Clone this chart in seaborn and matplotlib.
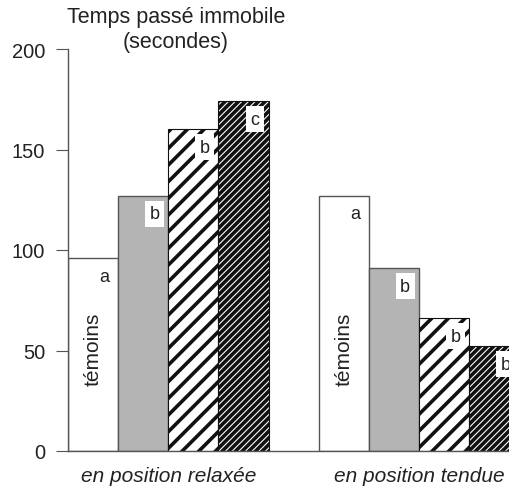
import matplotlib
matplotlib.use("Agg")
import matplotlib.pyplot as plt
import pandas as pd
import seaborn as sns

# values (seconds spent immobile)
positions = ["en position relaxée", "en position tendue"]
treatments = ["témoins", "traitement 1", "traitement 2", "traitement 3"]
relaxed = [96, 127, 160, 174]
tense = [127, 91, 66, 52]
letters_relaxed = ["a", "b", "b", "c"]
letters_tense = ["a", "b", "b", "b"]
y_ticks = [0, 50, 100, 150, 200]

df = pd.DataFrame({
    "position": [positions[0]] * 4 + [positions[1]] * 4,
    "traitement": treatments * 2,
    "temps": relaxed + tense,
})

sns.set_theme(style="white")
plt.rcParams["font.family"] = ["Liberation Sans", "DejaVu Sans"]
plt.rcParams["hatch.linewidth"] = 2.6

fig = plt.figure(figsize=(5.1, 4.89), dpi=100)
ax = fig.add_axes([68 / 510, 37 / 489, 464 / 510, 402 / 489])

palette = {"témoins": "white", "traitement 1": "#b4b4b4",
           "traitement 2": "white", "traitement 3": "white"}
sns.barplot(data=df, x="position", y="temps", hue="traitement", order=positions,
            hue_order=treatments, palette=palette, width=0.8, ax=ax,
            edgecolor="#555555", linewidth=1.0, saturation=1, legend=False)

# hatching: wide black stripes, then dense black stripes leaving thin white lines
for p in ax.containers[2]:
    p.set_hatch("//")
    p.set_edgecolor("#111111")
    p.set_linewidth(0.8)
for p in ax.containers[3]:
    p.set_hatch("/////")
    p.set_edgecolor("#111111")
    p.set_linewidth(0.8)

# significance letters
all_letters = [letters_relaxed, letters_tense]
for h, cont in enumerate(ax.containers):
    for g, p in enumerate(cont):
        ax.annotate(all_letters[g][h], xy=(p.get_x() + p.get_width(), p.get_height()),
                    xytext=(-14, -18), textcoords="offset pixels",
                    ha="center", va="center", fontsize=13, color="#222222",
                    bbox=dict(boxstyle="square,pad=0.25", fc="white", ec="none"))

# "témoins" written inside the control bars
for p in ax.containers[0]:
    ax.text(p.get_x() + p.get_width() / 2, 51, "témoins", rotation=90,
            ha="center", va="center", fontsize=15, color="#222222")

ax.set_xlim(-0.4, 1.45)
ax.set_ylim(0, 200)
ax.set_yticks(y_ticks)
ax.set_xlabel("")
ax.set_ylabel("")
ax.tick_params(axis="y", length=8.5, width=0.8, color="#555555", labelsize=14.5,
               labelcolor="#222222", pad=8, left=True)
ax.tick_params(axis="x", length=0, labelsize=15, labelcolor="#222222", pad=11)
for lab in ax.get_xticklabels():
    lab.set_fontstyle("italic")
sns.despine(ax=ax)
for s in ["left", "bottom"]:
    ax.spines[s].set_color("#555555")
    ax.spines[s].set_linewidth(1.0)

fig.text(176 / 510, 1 - 7 / 489, "Temps passé immobile\n(secondes)", ha="center",
         va="top", fontsize=15.5, color="#222222", linespacing=1.25)

fig.savefig("out.png", dpi=100)
